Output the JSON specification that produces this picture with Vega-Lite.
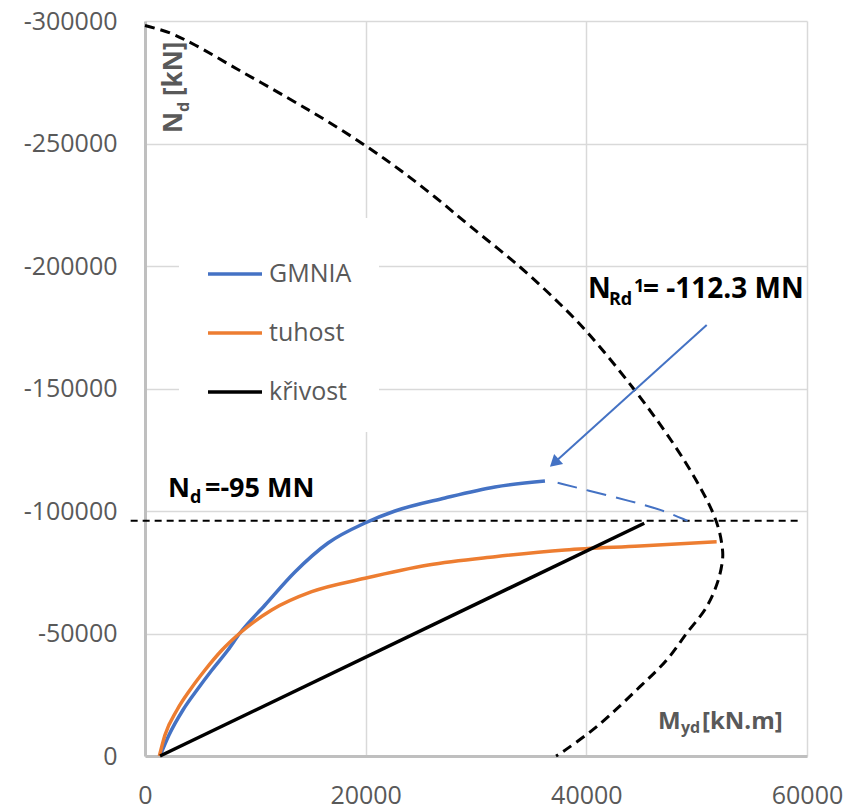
{
  "$schema": "https://vega.github.io/schema/vega-lite/v6.json",
  "width": 662,
  "height": 735,
  "autosize": {"type": "none"},
  "padding": {"left": 145, "top": 21, "right": 43, "bottom": 53},
  "background": "white",
  "config": {
    "view": {"stroke": null},
    "axis": {
      "labelFont": "Open Sans",
      "labelFontSize": 25,
      "labelColor": "#595959",
      "domainColor": "#bfbfbf",
      "domainWidth": 3,
      "gridColor": "#d9d9d9",
      "gridWidth": 1.5,
      "ticks": false,
      "title": null
    }
  },
  "datasets": {
    "envelope": [
      {"x": 0, "y": -298160}, {"x": 2266, "y": -295100}, {"x": 4530, "y": -290200},
      {"x": 8340, "y": -280400}, {"x": 12960, "y": -268570}, {"x": 16490, "y": -259180},
      {"x": 20030, "y": -248980}, {"x": 23110, "y": -239180}, {"x": 26280, "y": -228160},
      {"x": 29450, "y": -216330}, {"x": 33990, "y": -199590}, {"x": 37610, "y": -184490},
      {"x": 40060, "y": -173060}, {"x": 44230, "y": -150200}, {"x": 47850, "y": -127750},
      {"x": 50300, "y": -109790}, {"x": 51480, "y": -99180}, {"x": 52020, "y": -92240},
      {"x": 52290, "y": -86120}, {"x": 52360, "y": -81080}, {"x": 51960, "y": -71840},
      {"x": 50910, "y": -60940}, {"x": 49090, "y": -50080}, {"x": 47280, "y": -39180},
      {"x": 44860, "y": -28290}, {"x": 40940, "y": -11960}, {"x": 37650, "y": -1100},
      {"x": 37250, "y": 0}
    ],
    "nd": [{"x": -1300, "y": -96000}, {"x": 59550, "y": -96000}],
    "series": [
      {"s": "GMNIA", "x": 1360, "y": 0}, {"s": "GMNIA", "x": 2175, "y": -8570},
      {"s": "GMNIA", "x": 3440, "y": -18780}, {"s": "GMNIA", "x": 4710, "y": -26940},
      {"s": "GMNIA", "x": 6070, "y": -35100}, {"s": "GMNIA", "x": 7520, "y": -43270},
      {"s": "GMNIA", "x": 8610, "y": -50200}, {"s": "GMNIA", "x": 10880, "y": -61630},
      {"s": "GMNIA", "x": 13590, "y": -75100}, {"s": "GMNIA", "x": 16590, "y": -86940},
      {"s": "GMNIA", "x": 19940, "y": -95100}, {"s": "GMNIA", "x": 22660, "y": -100000},
      {"s": "GMNIA", "x": 27190, "y": -105300}, {"s": "GMNIA", "x": 31720, "y": -109800},
      {"s": "GMNIA", "x": 36250, "y": -112250},
      {"s": "tuhost", "x": 1300, "y": 0}, {"s": "tuhost", "x": 1810, "y": -8570},
      {"s": "tuhost", "x": 2900, "y": -18780}, {"s": "tuhost", "x": 4080, "y": -26940},
      {"s": "tuhost", "x": 5440, "y": -35100}, {"s": "tuhost", "x": 6980, "y": -43270},
      {"s": "tuhost", "x": 8610, "y": -50200}, {"s": "tuhost", "x": 11480, "y": -59590},
      {"s": "tuhost", "x": 15110, "y": -67060}, {"s": "tuhost", "x": 19940, "y": -72530},
      {"s": "tuhost", "x": 25680, "y": -77960}, {"s": "tuhost", "x": 31720, "y": -81350},
      {"s": "tuhost", "x": 38060, "y": -84080}, {"s": "tuhost", "x": 44860, "y": -85710},
      {"s": "tuhost", "x": 51810, "y": -87470},
      {"s": "křivost", "x": 1360, "y": 0}, {"s": "křivost", "x": 45250, "y": -95000}
    ],
    "gmniaExt": [
      {"x": 37400, "y": -111500}, {"x": 39970, "y": -108600}, {"x": 44190, "y": -103800},
      {"x": 46910, "y": -100400}, {"x": 49170, "y": -96000}
    ],
    "arrow": [{"x": 50910, "y": -175920}, {"x": 37095, "y": -119670}],
    "arrowHead": [{"x": 37095, "y": -119670}],
    "annBig": [
      {"x": 40150, "y": -186940, "t": "N"}, {"x": 45130, "y": -186940, "t": "= -112.3 MN"}
    ],
    "annBig2": [
      {"x": 2085, "y": -105710, "t": "N"}, {"x": 5437, "y": -105710, "t": "=-95 MN"}
    ],
    "annSmall": [
      {"x": 42050, "y": -184080, "t": "Rd"}, {"x": 44320, "y": -189390, "t": "1"},
      {"x": 4079, "y": -103260, "t": "d"}
    ],
    "axBig": [{"x": 46490, "y": -11220, "t": "M"}, {"x": 50480, "y": -11220, "t": "[kN.m]"}],
    "axSmall": [{"x": 48580, "y": -9390, "t": "yd"}],
    "vertBig": [{"x": 3353, "y": -254280, "t": "N"}, {"x": 3353, "y": -269390, "t": "[kN]"}],
    "vertSmall": [{"x": 3988, "y": -262850, "t": "d"}]
  },
  "encoding": {
    "x": {
      "field": "x", "type": "quantitative",
      "scale": {"domain": [0, 60000], "nice": false, "zero": false},
      "axis": {"values": [0, 20000, 40000, 60000], "labelPadding": 27, "labelExpr": "'' + datum.value", "labelFlush": false}
    },
    "y": {
      "field": "y", "type": "quantitative",
      "scale": {"domain": [0, -300000], "nice": false, "zero": false},
      "axis": {"values": [0, -50000, -100000, -150000, -200000, -250000, -300000], "labelPadding": 28, "labelExpr": "'' + datum.value", "labelFlush": false}
    }
  },
  "layer": [
    {
      "data": {"name": "envelope"},
      "mark": {"type": "line", "color": "#000000", "strokeWidth": 3, "strokeDash": [10, 6], "interpolate": "catmull-rom", "clip": false},
      "encoding": {"order": {"value": null}}
    },
    {
      "data": {"name": "nd"},
      "mark": {"type": "line", "color": "#000000", "strokeWidth": 2, "strokeDash": [7, 5], "clip": false},
      "encoding": {}
    },
    {
      "data": {"name": "series"},
      "mark": {"type": "line", "strokeWidth": 3.5, "interpolate": "monotone", "clip": false},
      "encoding": {
        "color": {
          "field": "s", "type": "nominal",
          "scale": {"domain": ["GMNIA", "tuhost", "křivost"], "range": ["#4472C4", "#ED7D31", "#000000"]},
          "legend": {
            "title": null, "orient": "none", "legendX": 34, "legendY": 197,
            "fillColor": "white", "padding": 27,
            "symbolType": "stroke", "symbolSize": 2916, "symbolStrokeWidth": 3.5,
            "labelFont": "Open Sans", "labelFontSize": 25, "labelColor": "#595959",
            "labelOffset": 5, "rowPadding": 17
          }
        }
      }
    },
    {
      "data": {"name": "gmniaExt"},
      "mark": {"type": "line", "color": "#4472C4", "strokeWidth": 2, "strokeDash": [20, 10], "interpolate": "basis", "clip": false},
      "encoding": {}
    },
    {
      "data": {"name": "arrow"},
      "mark": {"type": "line", "color": "#4472C4", "strokeWidth": 2, "clip": false},
      "encoding": {"order": {"value": null}}
    },
    {
      "data": {"name": "arrowHead"},
      "mark": {"type": "point", "shape": "triangle-up", "filled": true, "color": "#4472C4", "opacity": 1, "size": 180, "angle": 228, "clip": false}
    },
    {
      "data": {"name": "annBig"},
      "mark": {"type": "text", "align": "left", "baseline": "alphabetic", "font": "Open Sans", "fontWeight": "bold", "fontSize": 28, "color": "#000000", "clip": false},
      "encoding": {"text": {"field": "t"}}
    },
    {
      "data": {"name": "annBig2"},
      "mark": {"type": "text", "align": "left", "baseline": "alphabetic", "font": "Open Sans", "fontWeight": "bold", "fontSize": 27, "color": "#000000", "clip": false},
      "encoding": {"text": {"field": "t"}}
    },
    {
      "data": {"name": "annSmall"},
      "mark": {"type": "text", "align": "left", "baseline": "alphabetic", "font": "Open Sans", "fontWeight": "bold", "fontSize": 18, "color": "#000000", "clip": false},
      "encoding": {"text": {"field": "t"}}
    },
    {
      "data": {"name": "axBig"},
      "mark": {"type": "text", "align": "left", "baseline": "alphabetic", "font": "Open Sans", "fontWeight": "bold", "fontSize": 24, "color": "#595959", "clip": false},
      "encoding": {"text": {"field": "t"}}
    },
    {
      "data": {"name": "axSmall"},
      "mark": {"type": "text", "align": "left", "baseline": "alphabetic", "font": "Open Sans", "fontWeight": "bold", "fontSize": 16, "color": "#595959", "clip": false},
      "encoding": {"text": {"field": "t"}}
    },
    {
      "data": {"name": "vertBig"},
      "mark": {"type": "text", "align": "left", "baseline": "alphabetic", "angle": 270, "font": "Open Sans", "fontWeight": "bold", "fontSize": 26, "color": "#595959", "clip": false},
      "encoding": {"text": {"field": "t"}}
    },
    {
      "data": {"name": "vertSmall"},
      "mark": {"type": "text", "align": "left", "baseline": "alphabetic", "angle": 270, "font": "Open Sans", "fontWeight": "bold", "fontSize": 16, "color": "#595959", "clip": false},
      "encoding": {"text": {"field": "t"}}
    }
  ]
}
